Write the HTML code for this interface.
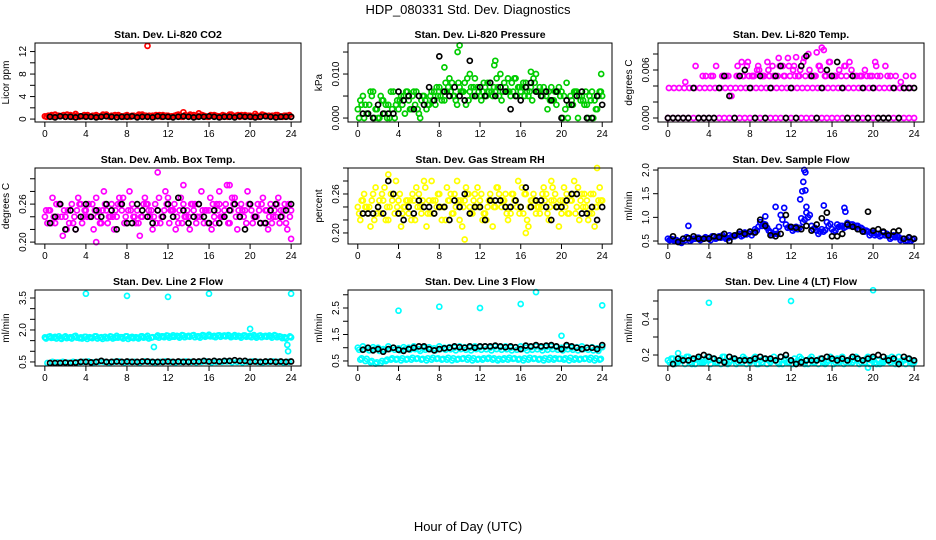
<!DOCTYPE html>
<html><head><meta charset="utf-8">
<style>
html,body{margin:0;padding:0;background:#fff;}
svg{display:block;font-family:"Liberation Sans",Arial,sans-serif;}
</style></head>
<body>
<svg id="chart" width="936" height="540" viewBox="0 0 936 540" xmlns="http://www.w3.org/2000/svg">
<rect width="936" height="540" fill="#fff"/>
<text x="468" y="14" font-size="13" text-anchor="middle">HDP_080331  Std. Dev. Diagnostics</text>
<text x="468" y="531" font-size="13" text-anchor="middle">Hour of Day (UTC)</text>
<g id="panels"></g>
</svg>
<script>
// x axis ticks
const xTicks = [0,4,8,12,16,20,24];
const xLim = [-0.96,24.96];
// ---- Panel 1: CO2 ----
const co2A = [0.5,0.6,0.8,0.5,0.4,0.7,0.9,0.5,0.6,0.4,0.7,0.5,0.8,0.6,0.4,0.5,0.7,0.6,0.5,0.8,0.4,0.6,0.5,0.7,0.6,0.5,0.8,0.4,0.6,0.7,0.5,0.6,0.4,0.7,0.5,0.6,0.8,0.5,0.4,0.7,0.6,0.9,0.5,0.6,0.4,0.7,0.5,0.6,0.4];
const co2B = [0.4,0.7,0.5,0.6,0.8,0.4,0.6,0.5,0.7,0.6,0.4,0.8,0.5,0.6,0.7,0.4,0.5,0.6,0.8,0.5,0.6,0.4,0.7,0.5,0.4,0.6,0.5,0.7,0.8,0.4,0.6,0.5,0.7,0.6,0.4,0.5,0.8,0.6,0.7,0.5,0.4,0.6,0.8,0.5,0.6,0.7,0.4,0.5,0.6];
const co2C = [0.6,0.4,0.6,0.7,0.5,0.6,0.4,0.7,0.5,0.6,0.5,0.6,0.4,0.7,0.5,0.6,0.4,0.5,0.7,0.6,0.5,0.7,0.4,0.6,0.5,0.7,0.4,0.6,0.5,0.6,0.7,0.4,0.6,0.5,0.7,0.4,0.6,0.7,0.5,0.6,0.5,0.4,0.7,0.6,0.5,0.4,0.6,0.7,0.5];
const co2Black = [null,0.4,0.3,0.5,0.4,0.4,0.3,0.5,0.4,0.4,0.3,0.4,0.5,0.4,0.3,0.4,0.4,0.5,0.3,0.4,0.4,0.3,0.5,0.4,0.4,0.3,0.4,0.5,0.4,0.3,0.4,0.4,0.5,0.4,0.3,0.4,0.4,0.3,0.5,0.4,0.4,0.3,0.4,0.5,0.4,0.3,0.4,0.4,0.4];
const co2Out = [[10,13],[13.5,1.2],[15,1.0]];
// ---- Panel 2: pressure (units 1e-3 kPa) ----
const prA = [2,5,1,6,0,4,3, 6,2,5,4,6,1,5,3, 6,7,4,9,5,7,8,6,9,5, 7,8,6,10,7,5,9,6,8,7,10,6, 5,7,3,6,8,4,6,5, 3,6,2,5];
const prB = [0,0,3,0,0,1,0, 0,4,1,2,3,0,4,5, 3,5,8,6,4,6,3,7,5,4, 5,6,9,4,6,8,5,7,6,4,6,5, 2,4,6,0,0,3,0,4, 0,0,5,1];
const prC = [4,3,6,2,5,3,6, 3,5,6,2,6,4,2,6, 7,4,6,8,3,6,9,5,7,6, 8,5,7,6,9,6,7,8,5,9,6,7, 6,4,7,5,3,6,5,3, 5,4,6,3];
const prD = [3,1,5,2,4,0,2, 4,3,6,5,2,5,3,4, 5,6,7,5,8,6,4,7,6,8, 6,7,5,8,6,9,7,5,6,8,7,6, 4,6,5,2,5,6,4,6, 4,2,6,4];
const prBlack = [null,1,1,0,3,1,1, 1,6,4,5,2,5,3,7, 4,14,6,5,7,5,4,13,5,7, 5,8,5,7,6,2,5,4,7,8,6,5, 6,4,6,0,4,3,5,6, 0,0,5,3];
const prOut = [[10,16.5],[9.8,15],[13.5,13],[13.4,12],[8.5,11.5],[23.9,10],[11,10],[17,10.5]];
// ---- Panel 3: Li-820 temp (units 1e-3 C) ----
const tpA = [0,0,0,0,0,0,0, 0,0,0,0,0,0,0,0, 0,0,0,0,0,0,0,0,0,0, 0,0,0,0,0,0,0,0,0,0,0,0, 0,0,0,0,0,0,0,0, 0,0,0,0];
const tpB = [3.75,3.75,3.75,3.75,3.75,3.75,3.75, 3.75,3.75,3.75,3.75,3.75,3.75,3.75,3.75, 3.75,3.75,3.75,3.75,3.75,3.75,3.75,3.75,3.75,3.75, 3.75,3.75,3.75,3.75,3.75,3.75,3.75,3.75,3.75,3.75,3.75,3.75, 3.75,3.75,3.75,3.75,3.75,3.75,3.75,3.75, 3.75,3.75,3.75,3.75];
const tpC = [null,null,null,4.5,null,6.5,null, 5.25,5.25,6.5,null,5.25,2.75,5.25,7, 6.5,5.25,6,5.25,7,6.5,5.25,6.5,7.5,6, 5.25,7,8,5.25,6.5,8.5,7,5.25,6,6.5,7,5.25, 5.25,6,5.25,7,5.25,6.5,5.25,5.25, 4.5,5.25,null,3.75];
const tpD = [null,null,null,null,null,null,null, null,null,null,5.25,null,null,6.5,5.25, 7,5.25,6.5,5.25,6,5.25,7.5,5.25,6.5,6.5, 5.25,7.5,6,5.25,6.5,5.25,7,5.25,null,6.5,null,null, 5.25,null,null,6.5,null,null,null,null, null,null,null,null];
const tpE = [null,null,null,null,null,null,5.25, null,5.25,null,5.25,5.25,null,5.25,5.25, 5.25,5.25,6,5.25,5.25,5.25,6.5,5.25,5.25,5.25, 6,5.25,5.25,5.25,6,5.25,5.25,5.25,5.25,5.25,6,5.25, 5.25,5.25,5.25,5.25,null,5.25,null,null, null,null,5.25,null];
const tpBlack = [0,0,0,0,0,3.75,0, 0,0,0,3.75,5.25,2.75,0,5.25, 6,3.75,0,5.25,0,3.75,5.25,6.5,0,3.75, 0,6.5,7.75,5.25,0,3.75,6,5.25,7,3.75,0,5.25, 0,3.75,0,3.75,0,0,0,3.75, 0,3.75,3.75,3.75];
const tpOut = [[15,8.8],[14.5,8.2],[12.5,7.6]];
// ---- Panel 4: amb box temp ----
const abA = [0.24,0.25,0.23,0.26,0.24,0.25,0.22,0.26,0.25,0.24,0.27,0.23,0.25,0.26,0.24,0.25,0.23,0.26,0.25,0.24,0.26,0.22,0.25,0.24,0.27,0.25,0.23,0.26,0.24,0.25,0.26,0.23,0.25,0.24,0.26,0.25,0.23,0.27,0.24,0.25,0.26,0.24,0.23,0.25,0.26,0.24,0.25,0.23,0.25];
const abB = [0.25,0.23,0.26,0.24,0.22,0.26,0.25,0.23,0.24,0.26,0.24,0.25,0.23,0.24,0.26,0.27,0.25,0.24,0.23,0.26,0.25,0.24,0.27,0.25,0.23,0.26,0.25,0.24,0.22,0.26,0.24,0.25,0.27,0.23,0.24,0.26,0.25,0.24,0.26,0.23,0.25,0.24,0.26,0.25,0.23,0.26,0.24,0.22,0.24];
const abC = [0.23,0.27,0.24,0.21,0.25,0.23,0.27,0.24,0.26,0.22,0.25,0.28,0.24,0.22,0.27,0.23,0.28,0.24,0.21,0.27,0.24,0.26,0.23,0.28,0.25,0.22,0.27,0.24,0.26,0.23,0.28,0.25,0.22,0.26,0.24,0.29,0.27,0.22,0.25,0.28,0.23,0.26,0.27,0.22,0.24,0.27,0.25,0.26,0.21];
const abD = [0.25,0.24,0.26,0.25,0.23,0.24,0.26,0.25,0.24,0.25,0.23,0.26,0.24,0.25,0.26,0.24,0.25,0.23,0.24,0.26,0.25,0.23,0.24,0.26,0.25,0.24,0.23,0.25,0.26,0.24,0.25,0.23,0.26,0.25,0.24,0.23,0.26,0.25,0.24,0.26,0.24,0.25,0.23,0.24,0.25,0.23,0.26,0.24,0.25];
const abBlack = [null,0.23,0.24,0.26,0.22,0.25,0.22,0.24,0.26,0.24,0.25,0.24,0.26,0.25,0.22,0.26,0.23,0.23,0.26,0.25,0.24,0.23,0.25,0.24,0.26,0.24,0.27,0.25,0.23,0.24,0.26,0.24,0.23,0.25,0.23,0.24,0.25,0.26,0.24,0.22,0.26,0.24,0.23,0.23,0.25,0.26,0.24,0.25,0.26];
const abOut = [[11,0.31],[13.5,0.29],[18,0.29],[17,0.28],[5,0.20],[24,0.205]];
// ---- Panel 5: gas stream RH ----
const rhA = [0.24,0.25,0.23,0.26,0.24,0.25,0.22,0.26,0.25,0.24,0.23,0.25,0.26,0.24,0.25,0.23,0.26,0.24,0.25,0.26,0.22,0.25,0.24,0.26,0.25,0.23,0.26,0.24,0.25,0.26,0.23,0.25,0.24,0.26,0.25,0.23,0.24,0.26,0.25,0.24,0.23,0.26,0.25,0.24,0.26,0.25,0.23,0.24,0.25];
const rhB = [0.23,0.26,0.24,0.22,0.25,0.27,0.24,0.23,0.26,0.24,0.25,0.22,0.24,0.27,0.23,0.25,0.24,0.22,0.26,0.24,0.25,0.27,0.23,0.24,0.26,0.22,0.25,0.27,0.24,0.23,0.26,0.24,0.27,0.22,0.25,0.24,0.26,0.23,0.27,0.24,0.25,0.23,0.26,0.27,0.24,0.22,0.26,0.25,0.24];
const rhC = [0.22,0.24,0.21,0.27,0.23,0.22,0.26,0.28,0.21,0.25,0.22,0.27,0.23,0.21,0.28,0.24,0.22,0.27,0.23,0.28,0.21,0.26,0.23,0.27,0.22,0.24,0.21,0.27,0.25,0.22,0.26,0.28,0.23,0.21,0.26,0.24,0.27,0.22,0.25,0.21,0.27,0.23,0.28,0.22,0.26,0.23,0.21,0.27,0.25];
const rhD = [0.25,0.24,0.25,0.23,0.26,0.24,0.25,0.24,0.23,0.25,0.26,0.24,0.25,0.23,0.25,0.26,0.24,0.25,0.23,0.25,0.24,0.26,0.25,0.24,0.23,0.25,0.24,0.26,0.25,0.24,0.25,0.23,0.26,0.24,0.25,0.23,0.25,0.24,0.26,0.25,0.24,0.25,0.23,0.25,0.24,0.26,0.24,0.25,0.23];
const rhBlack = [null,0.23,0.23,0.23,0.24,0.23,0.28,0.26,0.23,0.22,0.24,0.23,0.25,0.24,0.24,0.23,0.24,0.24,0.22,0.25,0.24,0.26,0.23,0.24,0.24,0.22,0.25,0.25,0.25,0.24,0.24,0.25,0.24,0.27,0.24,0.25,0.25,0.24,0.22,0.24,0.24,0.25,0.26,0.26,0.23,0.23,0.24,0.22,0.24];
const rhOut = [[10.5,0.19],[23.5,0.30],[3,0.29],[19,0.28],[16.5,0.20],[6.5,0.28]];
// ---- Panel 6: sample flow ----
const sfA = [0.55,0.53,0.5,0.55,0.56,0.55,0.57,0.55,0.56,0.58,0.6,0.58,0.62,0.6,0.65,0.68,0.7,0.75,0.9,0.85,0.68,0.72,1.05,0.85,0.78,0.8,0.98,1.1,0.82,0.72,0.75,0.9,0.75,0.85,0.82,0.88,0.85,0.82,0.75,0.7,0.68,0.65,0.68,0.6,0.62,0.58,0.55,0.56,0.55];
const sfB = [0.52,0.5,0.48,0.52,0.5,0.55,0.52,0.58,0.52,0.55,0.57,0.55,0.58,0.62,0.6,0.64,0.62,0.72,0.82,0.78,0.62,0.65,0.95,0.78,0.72,0.75,0.9,1.0,0.75,0.65,0.7,0.82,0.7,0.8,0.78,0.82,0.8,0.75,0.7,0.62,0.62,0.6,0.62,0.55,0.58,0.52,0.5,0.5,0.52];
const sfC = [0.54,0.52,0.46,0.58,0.53,0.57,0.54,0.56,0.6,0.57,0.62,0.56,0.6,0.64,0.62,0.66,0.68,0.8,0.86,0.72,0.65,0.8,1.2,0.8,0.76,0.78,0.95,1.05,0.78,0.7,0.73,0.86,0.72,0.82,0.8,0.85,0.82,0.78,0.72,0.66,0.65,0.62,0.65,0.58,0.6,0.55,0.52,0.53,0.54];
const sfBlack = [null,0.6,0.48,0.55,0.56,0.6,0.55,0.55,0.55,0.6,0.58,0.65,0.5,0.62,0.7,0.65,0.7,0.68,0.95,0.82,0.62,0.6,0.65,1.05,0.8,0.78,0.75,0.82,0.72,0.85,0.98,1.1,0.6,0.6,0.65,0.85,0.8,0.75,0.7,1.12,0.72,0.75,0.7,0.62,0.7,0.72,0.55,0.58,0.55];
const sfOut = [[2,0.82],[13.3,2.0],[13.4,1.95],[13.2,1.75],[13.1,1.55],[13.4,1.57],[12.9,1.38],[15.2,1.25],[17.2,1.2],[17.3,1.12],[10.5,1.22],[9.5,1.02],[13.5,1.22]];
// ---- Panel 7: line 2 flow ----
const l2A = [1.65,1.7,1.68,1.62,1.7,1.66,1.72,1.65,1.68,1.64,1.7,1.66,1.62,1.68,1.72,1.66,1.7,1.68,1.64,1.7,1.72,1.66,1.74,1.7,1.72,1.75,1.7,1.74,1.72,1.76,1.7,1.74,1.78,1.72,1.75,1.74,1.72,1.76,1.7,1.74,1.72,1.7,1.74,1.72,1.7,1.73,1.68,1.6,1.65];
const l2B = [1.6,1.63,1.6,1.58,1.62,1.6,1.64,1.6,1.58,1.62,1.6,1.58,1.62,1.6,1.64,1.6,1.58,1.62,1.6,1.64,1.6,1.2,1.64,1.66,1.64,1.68,1.64,1.66,1.68,1.66,1.64,1.68,1.7,1.66,1.68,1.7,1.66,1.68,1.64,1.68,1.66,1.64,1.66,1.68,1.64,1.66,1.62,1.3,1.2];
const l2C = [0.45,0.5,0.48,0.5,0.47,0.5,0.49,0.5,0.52,0.48,0.5,0.5,0.47,0.5,0.52,0.48,0.5,0.5,0.47,0.52,0.5,0.48,0.5,0.52,0.5,0.48,0.5,0.52,0.5,0.49,0.5,0.52,0.48,0.5,0.5,0.52,0.49,0.5,0.48,0.5,0.52,0.5,0.48,0.5,0.52,0.5,0.48,0.5,0.5];
const l2D = [1.68,1.64,1.7,1.66,1.64,1.7,1.62,1.68,1.66,1.7,1.64,1.68,1.7,1.64,1.66,1.7,1.64,1.66,1.7,1.66,1.64,1.68,1.7,1.74,1.68,1.72,1.76,1.7,1.74,1.7,1.76,1.72,1.7,1.74,1.72,1.76,1.7,1.72,1.74,1.7,1.76,1.72,1.7,1.74,1.76,1.7,1.66,1.7,1.68];
const l2Black = [null,0.45,0.45,0.45,0.47,0.45,0.47,0.5,0.5,0.48,0.5,0.55,0.5,0.5,0.52,0.5,0.52,0.5,0.5,0.52,0.52,0.5,0.5,0.5,0.52,0.5,0.52,0.5,0.5,0.52,0.52,0.55,0.52,0.55,0.52,0.55,0.55,0.58,0.55,0.55,0.5,0.52,0.5,0.52,0.52,0.5,0.52,0.5,0.52];
const l2Out = [[4,3.7],[8,3.6],[12,3.55],[16,3.7],[20,2.05],[24,3.7],[23.7,1.0]];
// ---- Panel 8: line 3 flow ----
const l3A = [1.0,1.05,0.98,1.02,1.0,0.95,1.05,1.0,0.98,1.02,1.0,1.05,0.95,1.0,1.02,0.98,1.05,1.0,1.02,1.0,1.05,1.02,1.0,1.05,1.02,1.05,1.0,1.05,1.02,1.05,1.0,1.02,1.05,1.0,1.02,1.05,1.0,1.02,1.05,1.02,1.0,1.05,1.0,1.02,1.05,1.0,1.02,0.98,1.02];
const l3B = [0.92,0.95,0.9,0.94,0.88,0.9,0.95,0.92,0.9,0.94,0.92,0.95,0.88,0.92,0.94,0.9,0.95,0.92,0.94,0.9,0.95,0.92,0.9,0.95,0.92,0.94,0.9,0.95,0.92,0.94,0.9,0.92,0.95,0.9,0.92,0.94,0.9,0.92,0.95,0.92,0.9,0.94,0.92,0.9,0.94,0.92,0.9,0.88,0.92];
const l3C = [0.55,0.5,0.45,0.4,0.42,0.5,0.55,0.55,0.52,0.55,0.55,0.58,0.55,0.52,0.55,0.58,0.55,0.55,0.52,0.55,0.58,0.55,0.52,0.55,0.55,0.58,0.55,0.52,0.55,0.55,0.58,0.55,0.52,0.55,0.58,0.55,0.52,0.55,0.55,0.58,0.55,0.52,0.55,0.55,0.58,0.55,0.52,0.55,0.55];
const l3D = [0.6,0.58,0.5,0.45,0.5,0.55,0.6,0.58,0.6,0.58,0.62,0.6,0.58,0.6,0.62,0.6,0.58,0.62,0.6,0.58,0.6,0.62,0.6,0.58,0.6,0.62,0.6,0.58,0.6,0.62,0.6,0.58,0.6,0.62,0.6,0.58,0.6,0.62,0.6,0.58,0.6,0.62,0.6,0.58,0.6,0.62,0.6,0.58,0.6];
const l3Black = [null,0.92,1.0,0.9,0.95,0.85,0.95,1.0,0.92,0.88,0.95,1.0,1.05,1.05,0.95,0.9,0.95,0.98,1.0,1.05,1.02,1.0,1.05,1.0,1.05,1.05,1.05,1.08,1.05,1.02,1.05,1.02,0.95,1.08,1.05,1.1,1.05,1.08,1.1,1.05,0.95,1.1,1.05,1.0,0.95,1.0,1.0,0.95,1.1];
const l3Out = [[4,2.4],[8,2.55],[12,2.5],[16,2.65],[17.5,3.1],[20,1.45],[24,2.6]];
// ---- Panel 9: line 4 flow ----
const l4A = [0.17,0.18,0.16,0.17,0.19,0.17,0.18,0.16,0.17,0.18,0.17,0.19,0.16,0.18,0.17,0.18,0.16,0.19,0.17,0.18,0.16,0.17,0.19,0.18,0.17,0.16,0.18,0.17,0.19,0.17,0.18,0.16,0.17,0.18,0.19,0.17,0.16,0.18,0.17,0.19,0.18,0.17,0.16,0.18,0.17,0.19,0.17,0.18,0.16];
const l4B = [0.16,0.15,0.17,0.15,0.16,0.15,0.16,0.17,0.15,0.16,0.15,0.16,0.17,0.15,0.16,0.15,0.17,0.15,0.16,0.15,0.17,0.16,0.15,0.16,0.15,0.17,0.16,0.15,0.16,0.15,0.16,0.17,0.15,0.16,0.15,0.16,0.17,0.15,0.16,0.15,0.16,0.15,0.17,0.16,0.15,0.16,0.15,0.16,0.15];
const l4C = [0.18,0.16,0.18,0.19,0.15,0.18,0.16,0.19,0.18,0.16,0.19,0.15,0.18,0.16,0.19,0.17,0.18,0.15,0.18,0.17,0.19,0.15,0.17,0.16,0.18,0.19,0.15,0.18,0.16,0.18,0.15,0.19,0.16,0.17,0.16,0.18,0.19,0.16,0.18,0.17,0.15,0.16,0.18,0.19,0.16,0.17,0.18,0.15,0.17];
const l4Black = [null,0.15,0.18,0.17,0.17,0.18,0.19,0.2,0.19,0.18,0.17,0.16,0.19,0.18,0.17,0.17,0.17,0.18,0.19,0.18,0.18,0.17,0.19,0.2,0.17,0.15,0.16,0.17,0.17,0.17,0.18,0.19,0.18,0.17,0.18,0.17,0.19,0.18,0.17,0.18,0.19,0.2,0.19,0.17,0.18,0.15,0.19,0.18,0.17];
const l4Out = [[4,0.49],[12,0.5],[20,0.56],[19.5,0.13],[1,0.21]];

const panels = [
 {name:'co2',title:'Stan. Dev. Li-820 CO2',ylab:'Licor ppm',ylim:[-0.52,13.52],ticks:[0,2,4,6,8,10,12],labels:['0','','4','','8','','12'],color:'#ff0000',series:[co2A,co2B,co2C],black:co2Black,out:co2Out},
 {name:'pressure',title:'Stan. Dev. Li-820 Pressure',ylab:'kPa',ylim:[-0.9,17.05],ticks:[0,5,10,15],labels:['0.000','','0.010',''],color:'#00cd00',series:[prA,prB,prC,prD],black:prBlack,out:prOut},
 {name:'li820-temp',title:'Stan. Dev. Li-820 Temp.',ylab:'degrees C',ylim:[-0.5,9.375],ticks:[0,2,4,6,8],labels:['0.000','','','0.006',''],color:'#ff00ff',series:[tpA,tpB,tpC,tpD,tpE],black:tpBlack,out:tpOut},
 {name:'amb-box-temp',title:'Stan. Dev. Amb. Box Temp.',ylab:'degrees C',ylim:[0.197,0.317],ticks:[0.20,0.22,0.24,0.26,0.28,0.30],labels:['0.20','','','0.26','',''],color:'#ff00ff',series:[abA,abB,abC,abD],black:abBlack,out:abOut},
 {name:'gas-rh',title:'Stan. Dev. Gas Stream RH',ylab:'percent',ylim:[0.183,0.30],ticks:[0.20,0.22,0.24,0.26,0.28,0.30],labels:['0.20','','','0.26','',''],color:'#ffff00',series:[rhA,rhB,rhC,rhD],black:rhBlack,out:rhOut},
 {name:'sample-flow',title:'Stan. Dev. Sample Flow',ylab:'ml/min',ylim:[0.437,2.043],ticks:[0.5,1.0,1.5,2.0],labels:['0.5','1.0','1.5','2.0'],color:'#0000ff',series:[sfA,sfB,sfC],black:sfBlack,out:sfOut},
 {name:'line2-flow',title:'Stan. Dev. Line 2 Flow',ylab:'ml/min',ylim:[0.31,3.875],ticks:[0.5,1,1.5,2,2.5,3,3.5],labels:['0.5','','','2.0','','','3.5'],color:'#00ffff',series:[l2A,l2B,l2C,l2D],black:l2Black,out:l2Out},
 {name:'line3-flow',title:'Stan. Dev. Line 3 Flow',ylab:'ml/min',ylim:[0.31,3.18],ticks:[0.5,1,1.5,2,2.5,3],labels:['0.5','','1.5','','2.5',''],color:'#00ffff',series:[l3A,l3B,l3C,l3D],black:l3Black,out:l3Out},
 {name:'line4-flow',title:'Stan. Dev. Line 4 (LT) Flow',ylab:'ml/min',ylim:[0.139,0.561],ticks:[0.2,0.3,0.4,0.5],labels:['0.2','','0.4',''],color:'#00ffff',series:[l4A,l4B,l4C],black:l4Black,out:l4Out}
];
const COLS=[[35,301],[348,612],[658,924]];
const ROWS=[[43,122],[168,244],[290,366]];
const NS='http://www.w3.org/2000/svg';
const root=document.getElementById('panels');
function mk(tag,attrs,parent){const e=document.createElementNS(NS,tag);for(const k in attrs)e.setAttribute(k,attrs[k]);parent.appendChild(e);return e;}

panels.forEach((p,idx)=>{
  const [x0,x1]=COLS[idx%3],[y0,y1]=ROWS[Math.floor(idx/3)];
  const xs=v=>x0+(v-xLim[0])/(xLim[1]-xLim[0])*(x1-x0);
  const ys=v=>y1-(v-p.ylim[0])/(p.ylim[1]-p.ylim[0])*(y1-y0);
  const g=mk('g',{},root);
  
  
  const t=mk('text',{x:(x0+x1)/2,y:y0-5,'font-size':'10.5','font-weight':'bold','text-anchor':'middle'},g);
  t.textContent=p.title;
  
  
  const yl=mk('text',{transform:`translate(${x0-26},${(y0+y1)/2}) rotate(-90)`,'font-size':'10','text-anchor':'middle'},g);
  yl.textContent=p.ylab;
  
  
  const pts=mk('g',{fill:'none','stroke-width':'1.7'},g);
  
  
  const n=p.series.length;
  p.series.forEach((arr,k)=>{
    arr.forEach((v,i)=>{
      if(v===null)return;
      const hr=i*0.5+k*0.5/n;
      if(hr>24.05)return;
      const c=mk('circle',{cx:xs(hr).toFixed(1),cy:ys(v).toFixed(1),r:'2.5',stroke:p.color},pts);
      
      
    });
  });
  p.out.forEach(([hr,v])=>{
    const c=mk('circle',{cx:xs(hr).toFixed(1),cy:ys(v).toFixed(1),r:'2.5',stroke:p.color},pts);
    
    
  });
  p.black.forEach((v,i)=>{
    if(v===null)return;
    const c=mk('circle',{cx:xs(i*0.5).toFixed(1),cy:ys(v).toFixed(1),r:'2.5',stroke:'#000'},pts);
    
    
  });
  const b=mk('rect',{x:x0,y:y0,width:x1-x0,height:y1-y0,fill:'none',stroke:'#000','stroke-width':'1'},g);
  
  
  const xa=mk('g',{stroke:'#000','stroke-width':'1'},g);
  
  
  mk('line',{x1:xs(xTicks[0]),x2:xs(xTicks[xTicks.length-1]),y1:y1,y2:y1},xa);
  xTicks.forEach(v=>{
    mk('line',{x1:xs(v),x2:xs(v),y1:y1,y2:y1+5},xa);
    const tl=mk('text',{x:xs(v),y:y1+15,'font-size':'10','text-anchor':'middle',stroke:'none',fill:'#000'},g);
    tl.textContent=v;
    
    
  });
  const ya=mk('g',{stroke:'#000','stroke-width':'1'},g);
  
  
  mk('line',{x1:x0,x2:x0,y1:ys(p.ticks[0]),y2:ys(p.ticks[p.ticks.length-1])},ya);
  p.ticks.forEach((v,i)=>{
    mk('line',{x1:x0-5,x2:x0,y1:ys(v),y2:ys(v)},ya);
    if(p.labels[i]){
      const tl=mk('text',{transform:`translate(${x0-9},${ys(v)}) rotate(-90)`,'font-size':'10','text-anchor':'middle'},g);
      tl.textContent=p.labels[i];
      
      
    }
  });
});
</script>
</body></html>
